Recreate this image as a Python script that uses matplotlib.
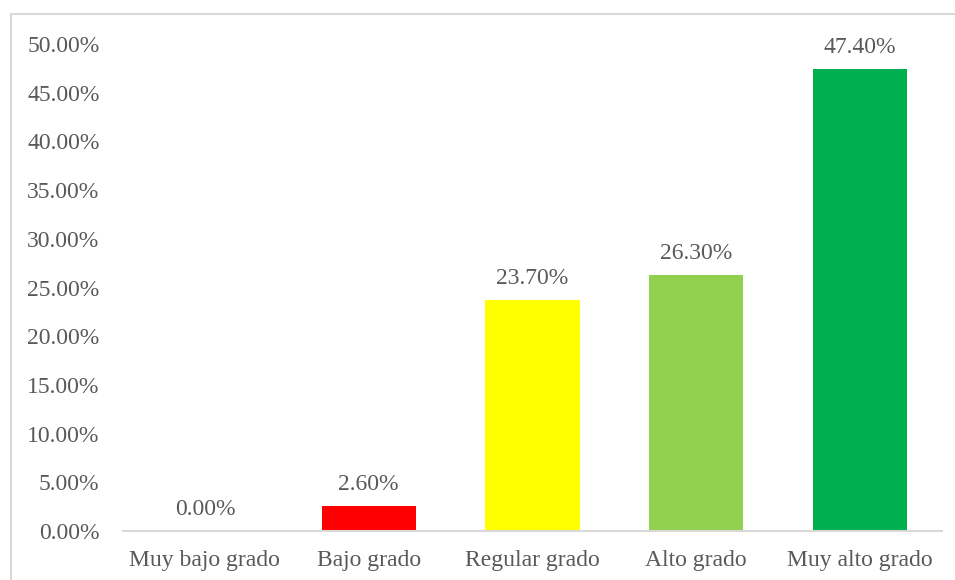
import matplotlib.pyplot as plt
from matplotlib.patches import Rectangle
from matplotlib.ticker import FuncFormatter

# categorias y porcentajes
categorias = ['Muy bajo grado', 'Bajo grado', 'Regular grado', 'Alto grado', 'Muy alto grado']
porcentajes = [0.0, 2.6, 23.7, 26.3, 47.4]
colores = ['#0070C0', '#FF0000', '#FFFF00', '#92D050', '#00B050']

plt.rcParams['font.family'] = ['Liberation Serif', 'DejaVu Serif']
txt = '#595959'
fs = 17

fig = plt.figure(figsize=(9.55, 5.8), dpi=100)
ax = fig.add_axes([123/955, 1 - 531/580, (942 - 123)/955, (531 - 44)/580])

x = range(len(categorias))
bars = ax.bar(x, porcentajes, width=0.575, color=colores)

for b, v in zip(bars, porcentajes):
    ax.annotate('%.2f%%' % v, (b.get_x() + b.get_width()/2, v),
                xytext=(0, 8), textcoords='offset points',
                ha='center', va='bottom', fontsize=fs, color=txt)

ax.set_xlim(-0.5, len(categorias) - 0.5)
ax.set_ylim(0, 50)
ax.set_yticks([i*5 for i in range(11)])
ax.yaxis.set_major_formatter(FuncFormatter(lambda v, p: '%.2f%%' % v))
ax.set_xticks(list(x))
ax.set_xticklabels(categorias)
ax.tick_params(axis='both', length=0, labelsize=fs, labelcolor=txt)
ax.tick_params(axis='y', pad=17)
ax.tick_params(axis='x', pad=14)

for s in ['top', 'right', 'left']:
    ax.spines[s].set_visible(False)
ax.spines['bottom'].set_color('#D9D9D9')
ax.spines['bottom'].set_linewidth(1.5)

# borde del area del grafico
fig.patches.append(Rectangle((11/955, -0.05), 1.1, 1 - 14/580 + 0.05,
                             transform=fig.transFigure, fill=False,
                             edgecolor='#D9D9D9', linewidth=1.5))

fig.savefig('out.png', dpi=100)
